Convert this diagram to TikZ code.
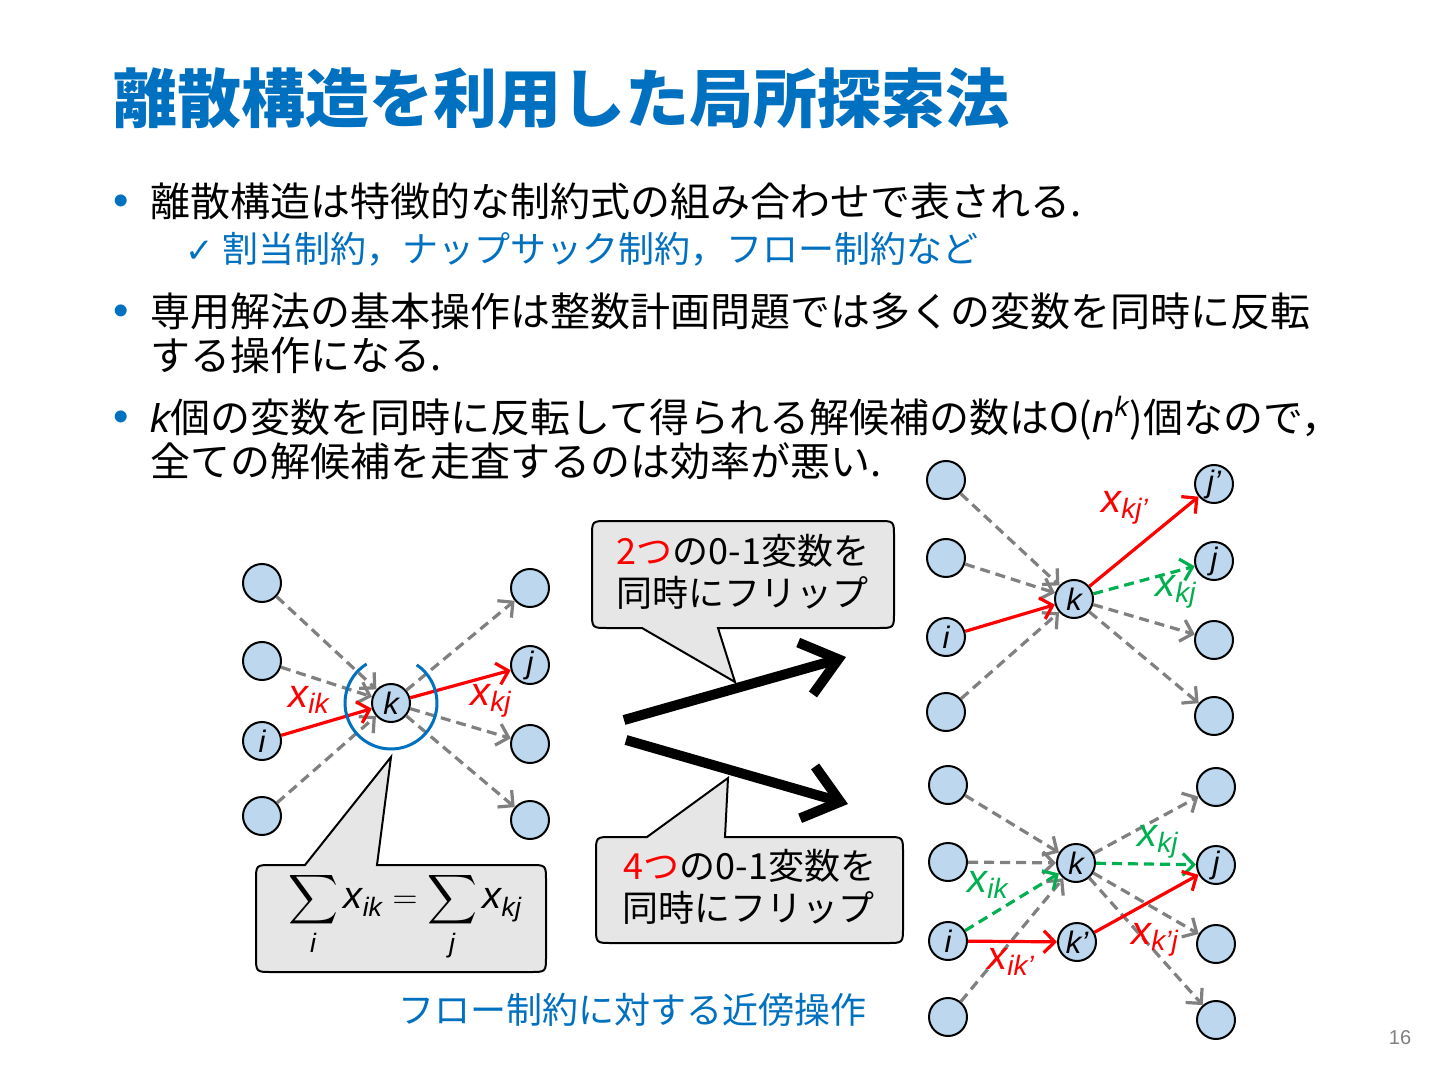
\documentclass[tikz,border=0pt]{standalone}
\usepackage{amsmath}
\usepackage{fontspec}
\setmainfont{Noto Sans CJK JP}
\newfontfamily\vf{Liberation Sans}
\newfontfamily\sym{DejaVu Sans}
\usetikzlibrary{arrows.meta}
\definecolor{ppblue}{RGB}{0,112,192}
\definecolor{nfill}{RGB}{189,215,238}
\definecolor{egray}{RGB}{128,128,128}
\definecolor{egreen}{RGB}{0,176,80}
\definecolor{cgray}{RGB}{230,230,230}
\newcommand\xs[1]{$\text{\vf\itshape x}_{\text{\vf\itshape #1}}$}
\tikzset{
  vtx/.style={circle, draw=black, line width=1pt, fill=nfill, minimum size=19pt, inner sep=0pt,
    font=\fontsize{15.5}{15.5}\selectfont\vf\itshape},
  tip/.style={-{Straight Barb[length=5.5pt,width=11pt]}},
  garr/.style={tip, draw=egray, line width=1.6pt, dash pattern=on 5pt off 3pt},
  rarr/.style={tip, draw=red, line width=1.6pt},
  gnarr/.style={tip, draw=egreen, line width=1.6pt, dash pattern=on 5pt off 3pt},
  lbl/.style={inner sep=0pt, font=\fontsize{20}{20}\selectfont},
  body/.style={anchor=base west, inner sep=0pt, font=\fontsize{20}{24}\selectfont},
  bul/.style={anchor=base, inner sep=0pt, text=ppblue, font=\fontsize{22}{22}\selectfont\vf},
  callout/.style={fill=cgray, draw=black, line width=1pt},
  ctext/.style={inner sep=0pt, font=\fontsize{18}{20}\selectfont},
  bigarr/.style={line width=5pt, -{Straight Barb[length=17pt,width=27pt]}},
}
\begin{document}
\begin{tikzpicture}[x=0.5pt,y=-0.5pt]
\fill[white] (0,0) rectangle (1440,1080);
\useasboundingbox (0,0) rectangle (1440,1080);

% title
\node[anchor=base west, inner sep=0pt, text=ppblue, font=\fontsize{32}{36}\selectfont\bfseries] (title) at (113,123) {離散構造を利用した局所探索法};

% bullets
\node[bul] (b1) at (121,216) {•};
\node[body] (t1) at (150,217) {離散構造は特徴的な制約式の組み合わせで表される.};
\node[anchor=base west, inner sep=0pt, text=ppblue, font=\fontsize{17}{17}\selectfont\sym] (ck) at (185,263) {✓};
\node[anchor=base west, inner sep=0pt, text=ppblue, font=\fontsize{18}{20}\selectfont] (t1s) at (222,263) {割当制約，ナップサック制約，フロー制約など};
\node[bul] (b2) at (121,326) {•};
\node[body] (t2a) at (150,327) {専用解法の基本操作は整数計画問題では多くの変数を同時に反転};
\node[body] (t2b) at (150,371) {する操作になる.};
\node[bul] (b3) at (121,431) {•};
\node[body] (t3a) at (150,432) {{\vf\itshape k}個の変数を同時に反転して得られる解候補の数はO({\vf\itshape n}$^{\text{\vf\itshape k}}$)個なので，};
\node[body] (t3b) at (150,476) {全ての解候補を走査するのは効率が悪い.};

% callouts
\coordinate (tip1) at (735,682);
\coordinate (tip2) at (728,778);
\coordinate (tip3) at (391,757);
\path[callout] (608,521) -- (878,521) .. controls (894,521) .. (894,537) -- (894,612) .. controls (894,628) .. (878,628) -- (718,628) -- (tip1) -- (642,628) -- (608,628) .. controls (592,628) .. (592,612) -- (592,537) .. controls (592,521) .. (608,521) -- cycle;
\path[callout] (612,837) -- (647,837) -- (tip2) -- (725,837) -- (887,837) .. controls (903,837) .. (903,853) -- (903,927) .. controls (903,943) .. (887,943) -- (612,943) .. controls (596,943) .. (596,927) -- (596,853) .. controls (596,837) .. (612,837) -- cycle;
\path[callout] (272,865) -- (305,865) -- (tip3) -- (377,865) -- (530,865) .. controls (546,865) .. (546,881) -- (546,956) .. controls (546,972) .. (530,972) -- (272,972) .. controls (256,972) .. (256,956) -- (256,881) .. controls (256,865) .. (272,865) -- cycle;

\node[ctext] (c1a) at (743,551) {{\color{red}2つ}の0-1変数を};
\node[ctext] (c1b) at (742,593) {同時にフリップ};
\node[ctext] (c2a) at (750,866) {{\color{red}4つ}の0-1変数を};
\node[ctext] (c2b) at (748,908) {同時にフリップ};
\node[inner sep=0pt, font=\fontsize{19}{21}\selectfont] (eq) at (405,917)
  {$\displaystyle\sum_{\text{\vf\itshape i}}\text{\vf\itshape x}_{\text{\vf\itshape ik}}=\sum_{\text{\vf\itshape j}}\text{\vf\itshape x}_{\text{\vf\itshape kj}}$};

% big arrows
\coordinate (a1s) at (624,720);
\coordinate (a1e) at (846,657);
\coordinate (a2s) at (626,740);
\coordinate (a2e) at (848,804);
\draw[bigarr] (a1s) -- (a1e);
\draw[bigarr] (a2s) -- (a2e);

% ---------- left graph
\node[vtx] (A1) at (262,583) {};
\node[vtx] (A2) at (262,661) {};
\node[vtx] (Ai) at (262,741) {i};
\node[vtx] (A4) at (262,816) {};
\node[vtx] (B1) at (530,588) {};
\node[vtx] (Bj) at (530,665) {j};
\node[vtx] (B3) at (530,744) {};
\node[vtx] (B4) at (530,820) {};
\node[vtx] (Ak) at (391,703) {k};
\draw[garr] (A1) -- (Ak);
\draw[garr] (A2) -- (Ak);
\draw[garr] (A4) -- (Ak);
\draw[rarr] (Ai) -- (Ak);
\draw[garr] (Ak) -- (B1);
\draw[rarr] (Ak) -- (Bj);
\draw[garr] (Ak) -- (B3);
\draw[garr] (Ak) -- (B4);
\draw[ppblue, line width=1.5pt] (Ak.center) ++(122:23pt) arc[start angle=122, end angle=416, radius=23pt];
\node[lbl, text=red] (lA1) at (309,700) {\xs{ik}};
\node[lbl, text=red] (lA2) at (491,701) {\xs{kj}};

% ---------- top right graph
\node[vtx] (C1) at (946,480) {};
\node[vtx] (C2) at (946,558) {};
\node[vtx] (Ci) at (946,637) {i};
\node[vtx] (C4) at (946,712) {};
\node[vtx] (D1) at (1214,484) {j’};
\node[vtx] (D2) at (1214,561) {j};
\node[vtx] (D3) at (1214,640) {};
\node[vtx] (D4) at (1214,716) {};
\node[vtx] (Ck) at (1074,599) {k};
\draw[garr] (C1) -- (Ck);
\draw[garr] (C2) -- (Ck);
\draw[garr] (C4) -- (Ck);
\draw[rarr] (Ci) -- (Ck);
\draw[rarr] (Ck) -- (D1);
\draw[gnarr] (Ck) -- (D2);
\draw[garr] (Ck) -- (D3);
\draw[garr] (Ck) -- (D4);
\node[lbl, text=red] (lC1) at (1125,508) {\xs{kj’}};
\node[lbl, text=egreen] (lC2) at (1176,592) {\xs{kj}};

% ---------- bottom right graph
\node[vtx] (E1) at (948,785) {};
\node[vtx] (E2) at (948,862) {};
\node[vtx] (Ei) at (948,941) {i};
\node[vtx] (E4) at (948,1017) {};
\node[vtx] (F1) at (1216,787) {};
\node[vtx] (Fj) at (1216,865) {j};
\node[vtx] (F3) at (1216,944) {};
\node[vtx] (F4) at (1216,1020) {};
\node[vtx] (Ek) at (1076,863) {k};
\node[vtx] (Ekp) at (1077,942) {k’};
\draw[garr] (E1) -- (Ek);
\draw[garr] (E2) -- (Ek);
\draw[garr] (E4) -- (Ek);
\draw[gnarr] (Ei) -- (Ek);
\draw[rarr] (Ei) -- (Ekp);
\draw[garr] (Ek) -- (F1);
\draw[gnarr] (Ek) -- (Fj);
\draw[garr] (Ek) -- (F3);
\draw[garr] (Ek) -- (F4);
\draw[rarr] (Ekp) -- (Fj);
\node[lbl, text=egreen] (lE1) at (1158,842) {\xs{kj}};
\node[lbl, text=egreen] (lE2) at (988,885) {\xs{ik}};
\node[lbl, text=red] (lE3) at (1011,962) {\xs{ik’}};
\node[lbl, text=red] (lE4) at (1155,940) {\xs{k’j}};

% caption and page number
\node[inner sep=0pt, text=ppblue, font=\fontsize{18}{20}\selectfont] (cap) at (632,1010) {フロー制約に対する近傍操作};
\node[inner sep=0pt, text=egray, font=\fontsize{10}{12}\selectfont\vf] (pg) at (1400,1038) {16};
\end{tikzpicture}
\end{document}
